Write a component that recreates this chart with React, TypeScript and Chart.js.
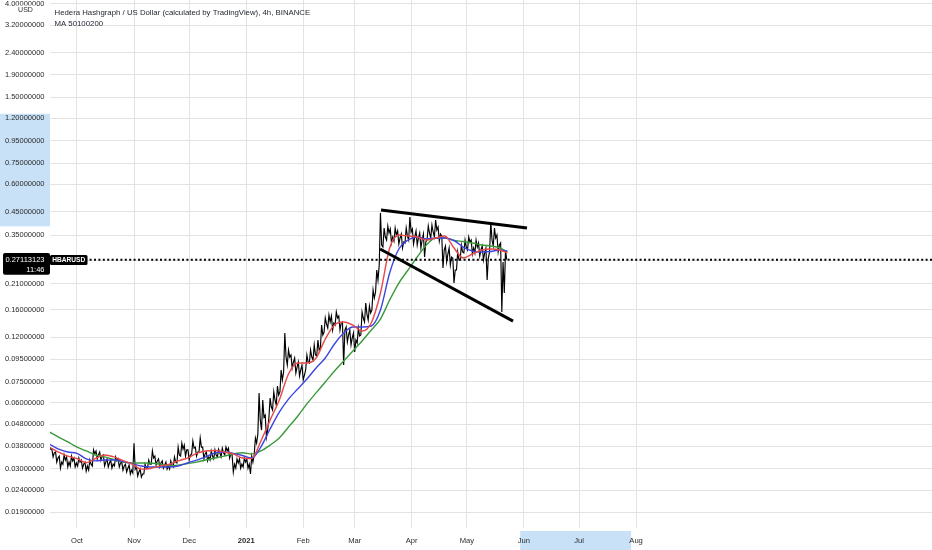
import React, { useEffect, useRef } from "react";
import { Chart, registerables } from "chart.js";

Chart.register(...registerables);

// x values are days counted from 1 Oct 2020
const candleDays = [
  -15, -13, -11, -9, -7, -5, -3, -1, 1, 3, 5, 7, 9, 11, 13, 15, 17, 19, 21, 23,
  25, 27, 29, 31, 33, 35, 37, 39, 41, 43, 45, 47, 49, 51, 53, 55, 57, 59, 61, 63,
  65, 67, 69, 71, 73, 75, 77, 79, 81, 83, 85, 87, 89, 91, 93, 95, 97, 99, 101, 103,
  105, 107, 109, 111, 113, 115, 117, 119, 121, 123, 125, 127, 129, 131, 133, 135, 137, 139, 141, 143,
  145, 147, 149, 151, 153, 155, 157, 159, 161, 163, 165, 167, 169, 171, 173, 175, 177, 179, 181, 183,
  185, 187, 189, 191, 193, 195, 197, 199, 201, 203, 205, 207, 209, 211, 213, 215, 217, 219, 221, 223,
  225, 227, 229, 231, 233,
];

const closes = [
  0.0369, 0.0355, 0.0336, 0.0322, 0.0329, 0.0322, 0.0326, 0.0319, 0.0322, 0.0315,
  0.0309, 0.0315, 0.0351, 0.0347, 0.0343, 0.0322, 0.0319, 0.0315, 0.0326, 0.0319,
  0.0309, 0.0302, 0.0296, 0.0299, 0.029, 0.0284, 0.0302, 0.0315, 0.0336, 0.0326,
  0.0319, 0.0312, 0.0309, 0.0312, 0.0322, 0.0347, 0.0369, 0.0366, 0.0347, 0.0373,
  0.0358, 0.0377, 0.0351, 0.034, 0.0343, 0.0347, 0.0355, 0.0355, 0.0362, 0.0351,
  0.0315, 0.0319, 0.0315, 0.0322, 0.0315, 0.0322, 0.0393, 0.0501, 0.0517, 0.0451,
  0.0575, 0.0619, 0.0652, 0.0764, 0.0973, 0.0973, 0.0923, 0.0876, 0.0849, 0.0805,
  0.0923, 0.0973, 0.0994, 0.1048, 0.1227, 0.1378, 0.1407, 0.1392, 0.1467, 0.1392,
  0.1293, 0.1227, 0.1189, 0.1164, 0.1214, 0.1467, 0.153, 0.1546, 0.1811, 0.2189,
  0.3164, 0.3443, 0.3591, 0.3443, 0.3516, 0.3407, 0.3266, 0.3479, 0.3629, 0.3443,
  0.3407, 0.3335, 0.3266, 0.3591, 0.3629, 0.3706, 0.3553, 0.3002, 0.2878, 0.2789,
  0.2432, 0.2702, 0.294, 0.3098, 0.3266, 0.3066, 0.3098, 0.3002, 0.2909, 0.2759,
  0.3335, 0.3407, 0.3164, 0.2646, 0.27113123,
];

const highs = [
  0.0377, 0.0369, 0.0358, 0.0343, 0.0347, 0.034, 0.0343, 0.0336, 0.0336, 0.0329,
  0.0322, 0.0329, 0.0366, 0.0362, 0.0358, 0.0347, 0.0333, 0.0329, 0.034, 0.0333,
  0.0322, 0.0315, 0.0312, 0.0393, 0.0306, 0.0299, 0.0315, 0.0329, 0.0362, 0.0343,
  0.0333, 0.0326, 0.0322, 0.0326, 0.034, 0.0377, 0.0393, 0.0385, 0.0366, 0.0402,
  0.0377, 0.0415, 0.0377, 0.0358, 0.0362, 0.0366, 0.0369, 0.0373, 0.0377, 0.0373,
  0.0347, 0.0333, 0.0333, 0.0336, 0.0333, 0.0343, 0.0415, 0.0667, 0.0619, 0.0528,
  0.0632, 0.0674, 0.0717, 0.0849, 0.1253, 0.1048, 0.0994, 0.0963, 0.0923, 0.0895,
  0.0994, 0.1048, 0.1104, 0.1164, 0.1363, 0.1467, 0.1514, 0.1498, 0.1563, 0.1498,
  0.1407, 0.1335, 0.1293, 0.1253, 0.1321, 0.1563, 0.1718, 0.1664, 0.197, 0.2432,
  0.4432, 0.3785, 0.3865, 0.3745, 0.3785, 0.3667, 0.3553, 0.3785, 0.425, 0.3745,
  0.3667, 0.3591, 0.3553, 0.3865, 0.3906, 0.4117, 0.3825, 0.3479, 0.3131, 0.3066,
  0.2759, 0.294, 0.3164, 0.3335, 0.3443, 0.3335, 0.3335, 0.3231, 0.3131, 0.3066,
  0.4031, 0.3785, 0.3516, 0.3231, 0.3002,
];

const lows = [
  0.0358, 0.034, 0.0322, 0.0302, 0.0315, 0.0306, 0.0309, 0.0306, 0.0309, 0.0302,
  0.0293, 0.0296, 0.0309, 0.0333, 0.0329, 0.0309, 0.0306, 0.0302, 0.0309, 0.0306,
  0.0296, 0.029, 0.0284, 0.0287, 0.0278, 0.0275, 0.0284, 0.0302, 0.0315, 0.0312,
  0.0306, 0.0302, 0.0299, 0.0299, 0.0306, 0.0319, 0.0343, 0.0343, 0.0329, 0.0351,
  0.0343, 0.0358, 0.0333, 0.0326, 0.0329, 0.0333, 0.034, 0.034, 0.0347, 0.0336,
  0.029, 0.0302, 0.0302, 0.0306, 0.0302, 0.0284, 0.0347, 0.0432, 0.0451, 0.0419,
  0.0512, 0.0557, 0.0587, 0.0674, 0.0831, 0.0895, 0.0867, 0.0823, 0.0797, 0.0764,
  0.0849, 0.0914, 0.0943, 0.0984, 0.107, 0.1266, 0.1321, 0.1293, 0.1363, 0.1293,
  0.0895, 0.114, 0.1104, 0.1026, 0.1128, 0.1227, 0.1407, 0.1437, 0.1596, 0.1929,
  0.2564, 0.3098, 0.3335, 0.3231, 0.33, 0.3198, 0.3066, 0.3231, 0.3335, 0.3198,
  0.3164, 0.3066, 0.2789, 0.3335, 0.3407, 0.3443, 0.33, 0.2484, 0.2646, 0.2564,
  0.2121, 0.2432, 0.2702, 0.2909, 0.3002, 0.2878, 0.2909, 0.2818, 0.2702, 0.2189,
  0.294, 0.3131, 0.294, 0.1563, 0.1909,
];

const maDays = [
  -15, -10, -5, 0, 5, 10, 15, 20, 25, 30, 35, 40, 45, 50, 55, 60, 65, 70, 75, 80,
  85, 90, 95, 100, 105, 110, 115, 120, 125, 130, 135, 140, 145, 150, 155, 160, 165, 170, 175, 180,
  185, 190, 195, 200, 205, 210, 215, 220, 225, 230, 234,
];

const ma50 = [
  0.0377, 0.0358, 0.0343, 0.0334, 0.032, 0.0334, 0.0347, 0.034, 0.0327, 0.0315,
  0.0299, 0.0301, 0.0309, 0.0314, 0.0326, 0.0336, 0.0353, 0.0362, 0.0364, 0.0358,
  0.0351, 0.0336, 0.0334, 0.0402, 0.0501, 0.0619, 0.0814, 0.0914, 0.0914, 0.0963,
  0.1176, 0.1363, 0.1407, 0.1363, 0.1279, 0.1392, 0.1909, 0.3066, 0.3516, 0.3479,
  0.3443, 0.3335, 0.3407, 0.3479, 0.3066, 0.2759, 0.2878, 0.3002, 0.3034, 0.3002,
  0.2909,
];

const ma100 = [
  0.0389, 0.0369, 0.0358, 0.0353, 0.0333, 0.0326, 0.0329, 0.0329, 0.0324, 0.0317,
  0.0309, 0.0306, 0.0306, 0.0306, 0.0309, 0.0319, 0.0329, 0.034, 0.0355, 0.0358,
  0.0353, 0.0345, 0.0336, 0.0378, 0.0456, 0.0545, 0.0625, 0.0695, 0.0772, 0.0867,
  0.0963, 0.1116, 0.1253, 0.1335, 0.1335, 0.1349, 0.1596, 0.2356, 0.3034, 0.3335,
  0.3443, 0.3371, 0.3407, 0.3407, 0.3318, 0.3098, 0.297, 0.294, 0.2955, 0.3002,
  0.297,
];

const ma200 = [
  0.0442, 0.0419, 0.0398, 0.0377, 0.0362, 0.0347, 0.034, 0.0331, 0.0322, 0.0319,
  0.0319, 0.0319, 0.0315, 0.031, 0.0312, 0.0317, 0.0322, 0.0329, 0.0336, 0.0343,
  0.0351, 0.0355, 0.0351, 0.0362, 0.0385, 0.0415, 0.0466, 0.0522, 0.0594, 0.0667,
  0.0748, 0.084, 0.0933, 0.1037, 0.1152, 0.1293, 0.1452, 0.1773, 0.2121, 0.2432,
  0.2789, 0.3164, 0.3407, 0.3407, 0.3318, 0.3283, 0.3231, 0.3164, 0.3131, 0.3066,
  0.294,
];

const upperTrendDays = [165.3, 244.7];
const upperTrendPrices = [0.4575, 0.3785];
const lowerTrendDays = [164.8, 237.1];
const lowerTrendPrices = [0.3033, 0.1421];

const lastPrice = 0.27113123;
const lastPriceText = "0.27113123";
const countdownText = "11:46";
const symbolText = "HBARUSD";
const titleText = "Hedera Hashgraph / US Dollar (calculated by TradingView), 4h, BINANCE";
const studyText = "MA 50100200";
const currencyText = "USD";

const monthDays = [0, 31, 61, 92, 123, 151, 182, 212, 243, 273, 304];
const monthLabels = ["Oct", "Nov", "Dec", "2021", "Feb", "Mar", "Apr", "May", "Jun", "Jul", "Aug"];

const yTicks = [
  4.0, 3.2, 2.4, 1.9, 1.5, 1.2, 0.95, 0.75, 0.6, 0.45, 0.35, 0.27, 0.21, 0.16, 0.12,
  0.095, 0.075, 0.06, 0.048, 0.038, 0.03, 0.024, 0.019,
];

const xMin = -14.68;
const xMax = 464.9;
const yMin = 0.01609;
const yMax = 4.172;

const yBand = [1.26, 0.385];
const xBand = [241, 301.3];

const FONT = "'Liberation Sans', Arial, sans-serif";

// price path: inside each 2-day period the line visits both extremes, then the close
function pricePath() {
  const pts: { x: number; y: number }[] = [];
  for (let i = 0; i < candleDays.length; i++) {
    const d = candleDays[i];
    const up = i === 0 ? true : closes[i] >= closes[i - 1];
    const first = up ? lows[i] : highs[i];
    const second = up ? highs[i] : lows[i];
    pts.push({ x: d - 0.66, y: first });
    pts.push({ x: d, y: second });
    pts.push({ x: d + 0.66, y: closes[i] });
  }
  return pts;
}

export default function App() {
  const ref = useRef<HTMLCanvasElement>(null);

  useEffect(() => {
    document.body.style.margin = "0";
    const overlay = {
      id: "overlay",
      beforeDraw(chart: any) {
        const { ctx, chartArea, scales } = chart;
        const ys = scales.y;
        const xs = scales.x;
        ctx.save();
        ctx.fillStyle = "#c8e1f7";
        const y1 = ys.getPixelForValue(yBand[0]);
        const y2 = ys.getPixelForValue(yBand[1]);
        ctx.fillRect(0, y1, chartArea.left, y2 - y1);
        const x1 = xs.getPixelForValue(xBand[0]);
        const x2 = xs.getPixelForValue(xBand[1]);
        ctx.fillRect(x1, chartArea.bottom + 3, x2 - x1, chart.height - chartArea.bottom - 3);
        ctx.restore();
      },
      afterDraw(chart: any) {
        const { ctx, chartArea, scales } = chart;
        const py = scales.y.getPixelForValue(lastPrice);
        ctx.save();
        ctx.fillStyle = "#1e222d";
        ctx.font = `7.8px ${FONT}`;
        ctx.textAlign = "left";
        ctx.textBaseline = "alphabetic";
        ctx.fillText(titleText, chartArea.left + 4.5, 15);
        ctx.fillText(studyText, chartArea.left + 4.5, 26.3);
        ctx.fillStyle = "#ffffff";
        ctx.fillRect(16, 5.5, 20, 11);
        ctx.fillStyle = "#2b2b2b";
        ctx.font = `7px ${FONT}`;
        ctx.textAlign = "center";
        ctx.textBaseline = "middle";
        ctx.fillText(currencyText, 25.5, 10.5);
        ctx.fillStyle = "#000";
        ctx.beginPath();
        (ctx as any).roundRect(3, py - 6.8, chartArea.left - 3, 21.8, 2);
        ctx.fill();
        ctx.fillStyle = "#fff";
        ctx.font = `7.5px ${FONT}`;
        ctx.textAlign = "right";
        ctx.fillText(lastPriceText, chartArea.left - 5.5, py + 0.5);
        ctx.fillText(countdownText, chartArea.left - 5.5, py + 10);
        ctx.fillStyle = "#000";
        ctx.beginPath();
        (ctx as any).roundRect(chartArea.left, py - 4.8, 37.5, 10.2, 1.5);
        ctx.fill();
        ctx.fillStyle = "#fff";
        ctx.font = `bold 6.6px ${FONT}`;
        ctx.textAlign = "center";
        ctx.fillText(symbolText, chartArea.left + 18.7, py + 0.5);
        ctx.restore();
      },
    };

    const chart = new Chart(ref.current!, {
      type: "line",
      data: {
        datasets: [
          {
            data: [
              { x: xMin, y: lastPrice },
              { x: xMax, y: lastPrice },
            ],
            borderColor: "#000",
            borderWidth: 2,
            borderDash: [2, 2.4],
            pointRadius: 0,
            order: 0,
          },
          {
            data: upperTrendDays.map((d, i) => ({ x: d, y: upperTrendPrices[i] })),
            borderColor: "#000",
            borderWidth: 3,
            pointRadius: 0,
            order: 1,
          },
          {
            data: lowerTrendDays.map((d, i) => ({ x: d, y: lowerTrendPrices[i] })),
            borderColor: "#000",
            borderWidth: 3,
            pointRadius: 0,
            order: 1,
          },
          {
            data: maDays.map((d, i) => ({ x: d, y: ma50[i] })),
            borderColor: "#e84848",
            borderWidth: 1.4,
            pointRadius: 0,
            cubicInterpolationMode: "monotone",
            order: 2,
          },
          {
            data: maDays.map((d, i) => ({ x: d, y: ma100[i] })),
            borderColor: "#3d44e0",
            borderWidth: 1.4,
            pointRadius: 0,
            cubicInterpolationMode: "monotone",
            order: 3,
          },
          {
            data: maDays.map((d, i) => ({ x: d, y: ma200[i] })),
            borderColor: "#3a9a3a",
            borderWidth: 1.4,
            pointRadius: 0,
            cubicInterpolationMode: "monotone",
            order: 4,
          },
          {
            data: pricePath(),
            borderColor: "#000",
            borderWidth: 1.15,
            pointRadius: 0,
            tension: 0,
            order: 5,
          },
        ],
      },
      options: {
        responsive: false,
        animation: false,
        events: [],
        layout: { padding: 0 },
        plugins: {
          legend: { display: false },
          tooltip: { enabled: false },
          title: { display: false },
        },
        scales: {
          x: {
            type: "linear",
            min: xMin,
            max: xMax,
            bounds: "data",
            offset: false,
            grid: { color: "#e3e3e3", drawTicks: false, lineWidth: 1, offset: false },
            border: { display: false },
            ticks: {
              autoSkip: false,
              maxRotation: 0,
              padding: 8,
              color: "#2b2b2b",
              font: (c: any) => ({
                family: FONT,
                size: 7.6,
                weight: c.tick && c.tick.value === 92 ? "bold" : "normal",
              }),
              callback: (v: any) => {
                const idx = monthDays.indexOf(Number(v));
                return idx >= 0 ? monthLabels[idx] : "";
              },
            },
            afterBuildTicks: (s: any) => {
              s.ticks = monthDays.map((v) => ({ value: v }));
            },
            afterFit: (s: any) => {
              s.height = 22;
              s.paddingLeft = 0;
              s.paddingRight = 0;
            },
          },
          y: {
            type: "logarithmic",
            position: "left",
            min: yMin,
            max: yMax,
            bounds: "data",
            grid: { color: "#e3e3e3", drawTicks: false, lineWidth: 1, offset: false },
            border: { display: false },
            ticks: {
              autoSkip: false,
              padding: 5.5,
              color: "#2b2b2b",
              font: { family: FONT, size: 7.5 },
              callback: (v: any) => Number(v).toFixed(8),
            },
            afterBuildTicks: (s: any) => {
              s.ticks = yTicks.map((v) => ({ value: v }));
            },
            afterFit: (s: any) => {
              s.width = 50;
              s.paddingTop = 0;
              s.paddingBottom = 0;
            },
          },
        },
      } as any,
      plugins: [overlay],
    });
    return () => chart.destroy();
  }, []);

  return (
    <div style={{ position: "absolute", left: 0, top: 0, width: 932, height: 550, background: "#fff" }}>
      <canvas ref={ref} width={932} height={550} style={{ display: "block", width: 932, height: 550 }} />
    </div>
  );
}
